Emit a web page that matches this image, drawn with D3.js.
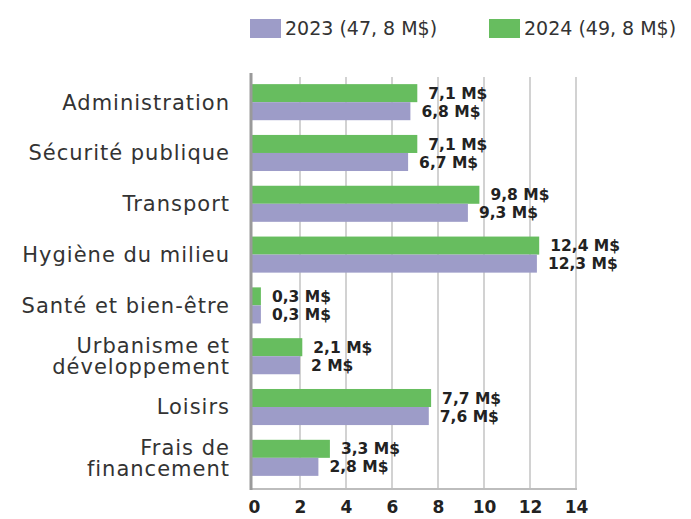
<!DOCTYPE html>
<html>
<head>
<meta charset="utf-8">
<script src="https://cdn.jsdelivr.net/npm/d3@7"></script>
<style>
	body { margin: 0; background: #fff; }
	svg { display: block; font-family: 'DejaVu Sans', sans-serif; }
</style>
</head>
<body>
<svg width="691" height="519"></svg>
<script>
/* global d3 */

/////////////////////////////////////////////////////////////////////////
// data

var categories = ['Administration', 'Sécurité publique', 'Transport', 'Hygiène du milieu',
	'Santé et bien-être', 'Urbanisme et\ndéveloppement', 'Loisirs', 'Frais de\nfinancement']
var values2023 = [6.8, 6.7, 9.3, 12.3, 0.3, 2, 7.6, 2.8]
var values2024 = [7.1, 7.1, 9.8, 12.4, 0.3, 2.1, 7.7, 3.3]
var seriesNames = ['2023 (47, 8 M$)', '2024 (49, 8 M$)']
var xTicks = [0, 2, 4, 6, 8, 10, 12, 14]

var purple = '#9d9cc8'
var green = '#67bd5f'

/////////////////////////////////////////////////////////////////////////
// scales

var svg = d3.select('svg')
var plotTop = 75, plotBottom = 489

var x = d3.scaleLinear().domain([0, 14]).range([254, 576])
var y = d3.scaleBand().domain(categories).range([76, 484]).paddingInner(0.29).paddingOuter(0.16)
var ySub = d3.scaleBand().domain(['2024', '2023']).range([0, y.bandwidth()])

var fmt = function(v) { return String(v).replace('.', ',') + ' M$' }

/////////////////////////////////////////////////////////////////////////
// grid + axes

svg.append('g').selectAll('line').data(xTicks.slice(1)).enter().append('line')
	.attr('x1', d => x(d)).attr('x2', d => x(d))
	.attr('y1', plotTop + 2).attr('y2', plotBottom)
	.attr('stroke', '#d2d2d2').attr('stroke-width', 2)

svg.append('line')
	.attr('x1', x(0) - 3).attr('x2', x(14) + 1)
	.attr('y1', plotBottom).attr('y2', plotBottom)
	.attr('stroke', '#bdbdbd').attr('stroke-width', 2)

var xAxis = svg.append('g')
	.attr('transform', 'translate(0,' + plotBottom + ')')
	.call(d3.axisBottom(x).tickValues(xTicks).tickSize(0).tickPadding(12))
xAxis.select('.domain').remove()
xAxis.selectAll('text')
	.attr('font-family', 'DejaVu Sans').attr('font-size', 17).attr('font-weight', 'bold').attr('fill', '#222')

/////////////////////////////////////////////////////////////////////////
// bars

var rows = categories.map((c, i) => ({ cat: c, v2023: values2023[i], v2024: values2024[i] }))

var row = svg.append('g').selectAll('g').data(rows).enter().append('g')
	.attr('transform', d => 'translate(0,' + y(d.cat) + ')')

row.append('rect')
	.attr('x', x(0) - 2).attr('y', ySub('2024'))
	.attr('width', d => x(d.v2024) - x(0) + 2).attr('height', ySub.bandwidth())
	.attr('fill', green)

row.append('rect')
	.attr('x', x(0) - 2).attr('y', ySub('2023'))
	.attr('width', d => x(d.v2023) - x(0) + 2).attr('height', ySub.bandwidth())
	.attr('fill', purple)

row.append('text')
	.attr('x', d => x(d.v2024) + 11).attr('y', ySub('2024') + ySub.bandwidth() / 2)
	.attr('dy', '0.36em')
	.text(d => fmt(d.v2024))

row.append('text')
	.attr('x', d => x(d.v2023) + 11).attr('y', ySub('2023') + ySub.bandwidth() / 2)
	.attr('dy', '0.36em')
	.text(d => fmt(d.v2023))

row.selectAll('text')
	.attr('font-size', 15.5).attr('font-weight', 'bold').attr('fill', '#222')

// left axis line
svg.append('line')
	.attr('x1', x(0) - 3).attr('x2', x(0) - 3)
	.attr('y1', plotTop - 2).attr('y2', plotBottom + 1)
	.attr('stroke', '#9a9a9a').attr('stroke-width', 3)

/////////////////////////////////////////////////////////////////////////
// category labels

var lab = svg.append('g').selectAll('text').data(categories).enter().append('text')
	.attr('text-anchor', 'end')
	.attr('font-size', 21).attr('letter-spacing', 1).attr('fill', '#333')
	.attr('transform', d => 'translate(230,' + (y(d) + y.bandwidth() / 2) + ')')

lab.each(function(d) {
	var lines = d.split('\n')
	var t = d3.select(this)
	lines.forEach((l, i) => {
		t.append('tspan').attr('x', 0)
			.attr('y', (i - (lines.length - 1) / 2) * 21)
			.attr('dy', '0.35em')
			.text(l)
	})
})

/////////////////////////////////////////////////////////////////////////
// legend

var legend = svg.append('g').selectAll('g').data(seriesNames).enter().append('g')
	.attr('transform', (d, i) => 'translate(' + (250 + i * 239) + ',19)')

legend.append('rect').attr('width', 31).attr('height', 19)
	.attr('fill', (d, i) => i ? green : purple)

legend.append('text').attr('x', 35).attr('y', 9.5).attr('dy', '0.36em')
	.attr('font-size', 19).attr('fill', '#333')
	.text(d => d)
</script>
</body>
</html>
